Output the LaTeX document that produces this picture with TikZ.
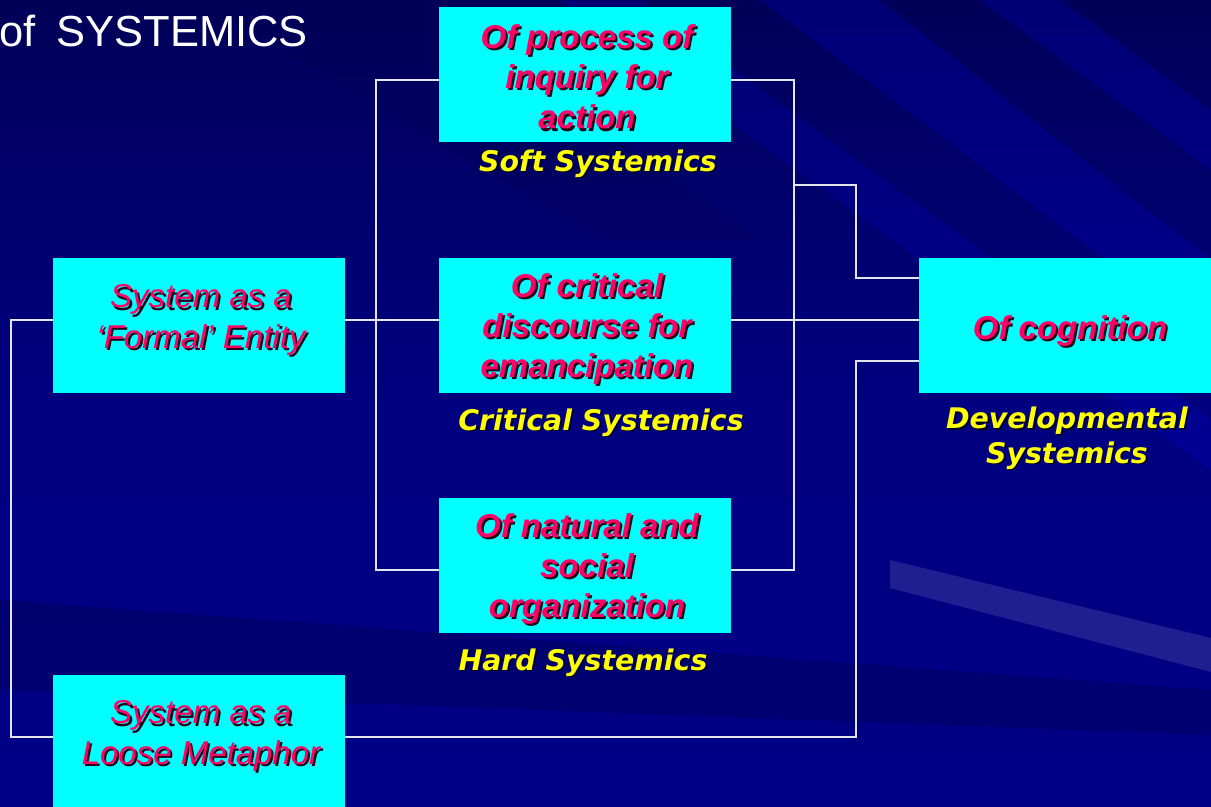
\documentclass[tikz,border=0pt]{standalone}
\usepackage{fontspec}
\setmainfont{Liberation Sans}
\newfontfamily\verd{DejaVu Sans}[BoldFont={DejaVu Sans Bold},ItalicFont={DejaVu Sans Oblique},BoldItalicFont={DejaVu Sans Bold Oblique}]
\definecolor{navy}{HTML}{000080}
\definecolor{navydark}{HTML}{000058}
\definecolor{boxcyan}{HTML}{00FFFF}
\definecolor{pinktext}{HTML}{FF0066}
\definecolor{shade}{HTML}{2A0015}
\definecolor{yshade}{HTML}{000022}
\definecolor{labyellow}{HTML}{FFFF00}
\definecolor{linegray}{HTML}{E4E4EC}
\pgfdeclarelayer{bg}\pgfdeclarelayer{lines}\pgfsetlayers{bg,lines,main}
\newcommand\shd[1]{\leavevmode\rlap{\hspace{1.6pt}\raisebox{-1.6pt}{\textcolor{shade}{#1}}}#1}
\newcommand\yshd[1]{\leavevmode\rlap{\hspace{1.2pt}\raisebox{-1.2pt}{\textcolor{yshade}{#1}}}#1}
\tikzset{
  boxnode/.style={fill=boxcyan, minimum width=219pt, minimum height=101.25pt, inner sep=0pt},
  boxtext/.style={text=pinktext, align=center, inner sep=0pt, font=\fontsize{24.75}{30.2}\selectfont\bfseries\itshape},
  plaintext/.style={text=pinktext, align=center, inner sep=0pt, font=\fontsize{24.75}{30.2}\selectfont\itshape},
  lbl/.style={text=labyellow, align=center, inner sep=0pt, font=\verd\fontsize{21.3}{26.2}\selectfont\bfseries\itshape},
  conn/.style={draw=linegray, line width=1.1pt}
}
\begin{document}
\begin{tikzpicture}[x=0.75pt,y=-0.75pt]
\useasboundingbox (0,0) rectangle (1211,807);
\begin{pgfonlayer}{bg}
  \fill[top color=navydark, bottom color=navy!95!blue, middle color=navy] (0,0) rectangle (1211,807);
  \fill[blue!60!navy, opacity=0.25] (760,0) -- (880,0) -- (1211,260) -- (1211,340) -- cycle;
  \fill[blue!60!navy, opacity=0.25] (980,0) -- (1060,0) -- (1211,110) -- (1211,170) -- cycle;
  \fill[blue!70!navy, opacity=0.2] (560,0) -- (640,0) -- (1211,420) -- (1211,470) -- cycle;
  \fill[navydark, opacity=0.45] (0,600) -- (1211,690) -- (1211,735) -- (0,690) -- cycle;
  \fill[navydark, opacity=0.35] (200,0) -- (420,0) -- (760,240) -- (600,240) -- cycle;
  \fill[white, opacity=0.12] (890,560) -- (1211,638) -- (1211,672) -- (890,588) -- cycle;
\end{pgfonlayer}

\node[anchor=base east, text=white, inner sep=0pt, font=\fontsize{32.6}{36}\selectfont] (title) at (308,46) {of\hspace{6.5pt} SYSTEMICS};

% boxes
\node[boxnode] (soft) at (585,74.5) {};
\node[boxnode] (critical) at (585,325.5) {};
\node[boxnode] (hard) at (585,565.5) {};
\node[boxnode] (formal) at (199,325.5) {};
\node[boxnode] (loose) at (199,742.5) {};
\node[boxnode] (cog) at (1065,325.5) {};

% box texts
\node[boxtext] (softT) at (587,78) {\shd{Of process of}\\\shd{inquiry for}\\\shd{action}};
\node[boxtext] (criticalT) at (587,330) {\shd{Of critical}\\\shd{discourse for}\\\shd{emancipation}};
\node[boxtext] (hardT) at (587,570) {\shd{Of natural and}\\\shd{social}\\\shd{organization}};
\node[plaintext] (formalT) at (201,321) {\shd{System as a}\\\shd{‘Formal’ Entity}};
\node[plaintext] (looseT) at (201,737) {\shd{System as a}\\\shd{Loose Metaphor}};
\node[boxtext] (cogT) at (1070,332) {\shd{Of cognition}};

% labels
\node[lbl, anchor=base] (lsoft) at (598,171) {\yshd{Soft Systemics}};
\node[lbl, anchor=base] (lcrit) at (601,430) {\yshd{Critical Systemics}};
\node[lbl, anchor=base] (lhard) at (583,670) {\yshd{Hard Systemics}};
\node[lbl] (ldev) at (1067,439) {\yshd{Developmental}\\\yshd{Systemics}};

% connector coordinates
\coordinate (hS) at (0,80);
\coordinate (hF) at (0,320);
\coordinate (hH) at (0,570);
\coordinate (hL) at (0,737);
\coordinate (hC1) at (0,278);
\coordinate (hC3) at (0,361);
\coordinate (xL) at (376,0);
\coordinate (xR) at (794,0);
\coordinate (xD) at (856,0);
\coordinate (xO) at (11,0);
\coordinate (jS) at (794,185);

\begin{pgfonlayer}{lines}
  \draw[conn] (formal.east |- hF) -- (critical.west |- hF);
  \draw[conn] (soft.west |- hS) -| (xL |- hH) -- (hard.west |- hH);
  \draw[conn] (soft.east |- hS) -| (xR |- hH) -- (hard.east |- hH);
  \draw[conn] (critical.east |- hF) -- (cog.west |- hF);
  \draw[conn] (jS) -| (xD |- hC1) -- (cog.west |- hC1);
  \draw[conn] (formal.west |- hF) -| (xO |- hL) -- (loose.west |- hL);
  \draw[conn] (loose.east |- hL) -| (xD |- hC3) -- (cog.west |- hC3);
\end{pgfonlayer}
\end{tikzpicture}
\end{document}
